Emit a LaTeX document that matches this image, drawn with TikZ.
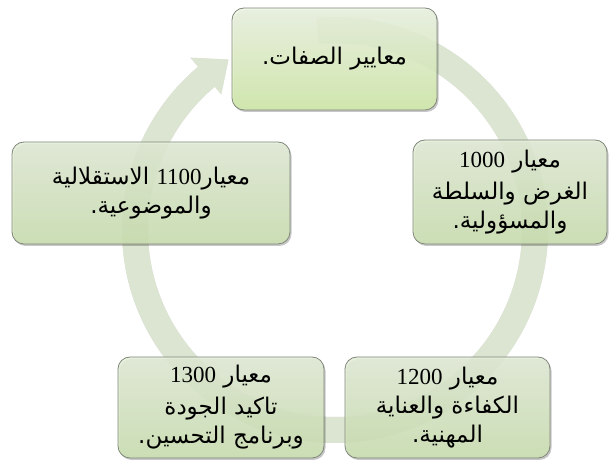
\documentclass[tikz,border=0pt]{standalone}
\usepackage{fontspec}
\usetikzlibrary{shadows,calc}
\TeXXeTstate=1
\newfontfamily\arabicfont[Script=Arabic]{DejaVu Sans}
\newfontfamily\digitfont{Liberation Serif}
\newcommand\arl[1]{\beginR #1\endR}
\newcommand\dignum[1]{\beginL{\digitfont #1}\endL}
\definecolor{bandc}{HTML}{DCE5D2}
\definecolor{boxline}{HTML}{7F8579}
\definecolor{boxtop}{HTML}{E4EED9}
\definecolor{boxbot}{HTML}{CDE2B2}
\definecolor{firsttop}{HTML}{EEF6E4}
\definecolor{firstbot}{HTML}{D2EBAA}
\tikzset{
  stdbox/.style={draw=boxline, line width=0.8pt, rounded corners=12pt,
    top color=boxtop, bottom color=boxbot, fill opacity=0.86, text opacity=1,
    drop shadow={shadow xshift=1.5pt, shadow yshift=-2pt, opacity=0.22, fill=black},
    align=center, inner sep=0pt,
    font=\arabicfont\fontsize{23}{29}\selectfont},
  firstbox/.style={stdbox, top color=firsttop, bottom color=firstbot},
  bandfill/.style={fill=bandc},
}
\begin{document}
\begin{tikzpicture}[x=1pt,y=1pt]
\useasboundingbox (0,0) rectangle (611,463);
\coordinate (C) at (335,233);
% band shadow
\fill[black, opacity=0.12, shift={(1.5,-1.5)}]
  ($(C)+(95:213)$) arc[start angle=95, end angle=-230, radius=213]
  -- ($(C)+(-230:225)$) -- ($(C)+(-238:201)$) -- ($(C)+(-230:177)$)
  -- ($(C)+(-230:187)$) arc[start angle=-230, end angle=95, radius=187] -- cycle;
% circular arrow band
\fill[bandfill]
  ($(C)+(95:213)$) arc[start angle=95, end angle=-230, radius=213]
  -- ($(C)+(-230:225)$) -- ($(C)+(-238:201)$) -- ($(C)+(-230:177)$)
  -- ($(C)+(-230:187)$) arc[start angle=-230, end angle=95, radius=187] -- cycle;
% boxes
\node[firstbox, minimum width=205pt, minimum height=102pt] (top) at (334.5,404)
  {\arl{معايير الصفات.}};
\node[stdbox, minimum width=194pt, minimum height=104pt] (r1000) at (510,271)
  {\arl{معيار \dignum{1000}}\\[3pt] \arl{الغرض والسلطة}\\ \arl{والمسؤولية.}};
\node[stdbox, minimum width=278pt, minimum height=102pt] (l1100) at (151,270)
  {\arl{معيار\dignum{1100} الاستقلالية}\\ \arl{والموضوعية.}};
\node[stdbox, minimum width=205pt, minimum height=101pt] (b1200) at (447.5,55.5)
  {\arl{معيار \dignum{1200}}\\ \arl{الكفاءة والعناية}\\ \arl{المهنية.}};
\node[stdbox, minimum width=206pt, minimum height=101pt] (b1300) at (221,55.5)
  {\arl{معيار \dignum{1300}}\\[3pt] \arl{تاكيد الجودة}\\ \arl{وبرنامج التحسين.}};
\end{tikzpicture}
\end{document}
